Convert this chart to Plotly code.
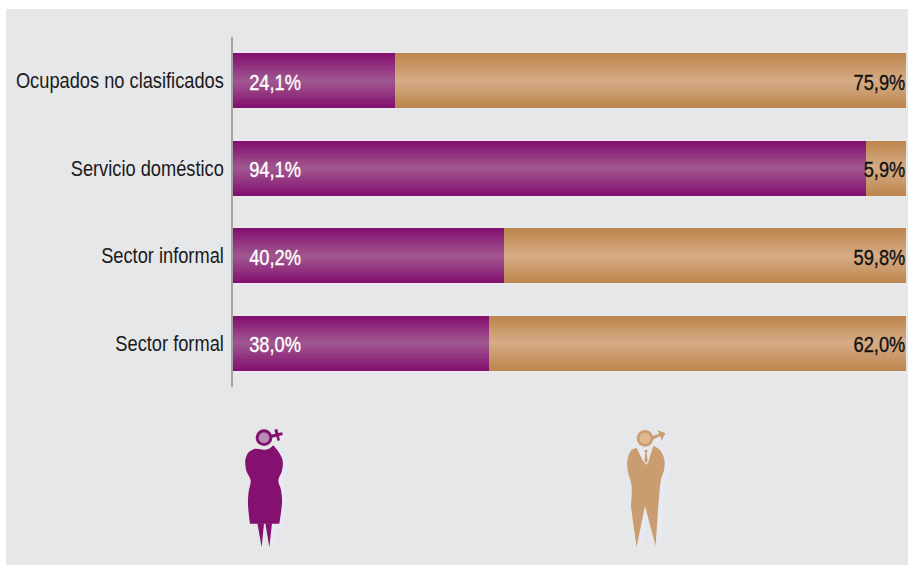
import plotly.graph_objects as go

categories = ["Sector formal", "Sector informal", "Servicio doméstico", "Ocupados no clasificados"]
mujeres = [38.0, 40.2, 94.1, 24.1]
hombres = [62.0, 59.8, 5.9, 75.9]
etiquetas_mujeres = ["38,0%", "40,2%", "94,1%", "24,1%"]
etiquetas_hombres = ["62,0%", "59,8%", "5,9%", "75,9%"]

W, H = 908, 565
PANEL = "#e6e7e9"
PURPLE = "#84106f"
TAN = "#c99d6f"
FONT = "Liberation Sans"
BAR_W = 0.63
N = 28
pos = list(range(len(categories)))


def mix(a, b, t):
    ca = [int(a[i:i + 2], 16) for i in (1, 3, 5)]
    cb = [int(b[i:i + 2], 16) for i in (1, 3, 5)]
    return "rgb(%d,%d,%d)" % tuple(round(x + (y - x) * t) for x, y in zip(ca, cb))


fig = go.Figure()
for k in range(N // 2 + 1):
    t = k / (N / 2)
    off = -BAR_W / 2 + k * BAR_W / N
    wid = BAR_W - 2 * k * BAR_W / N
    if wid <= 0:
        break
    fig.add_bar(y=pos, x=mujeres, orientation="h", width=wid, offset=off,
                marker=dict(color=mix("#84106f", "#a15a91", t), line_width=0), hoverinfo="skip", showlegend=False)
    fig.add_bar(y=pos, x=hombres, base=mujeres, orientation="h", width=wid, offset=off,
                marker=dict(color=mix("#bc864e", "#d7ad88", t), line_width=0), hoverinfo="skip", showlegend=False)

label_y = [p - 0.04 for p in pos]
fig.add_scatter(x=[2.4] * 4, y=label_y, mode="text", text=etiquetas_mujeres, textposition="middle right",
                textfont=dict(family=FONT, size=22, color="white"), cliponaxis=False,
                hoverinfo="skip", showlegend=False)
fig.add_scatter(x=[99.9] * 4, y=label_y, mode="text", text=etiquetas_hombres, textposition="middle left",
                textfont=dict(family=FONT, size=22, color="#111111"), cliponaxis=False,
                hoverinfo="skip", showlegend=False)


def X(zx, ox):
    return (ox + zx / 3) / W


def Y(zy):
    return 1 - (400 + zy / 3) / H


def poly(points, ox, dx=0, dy=0):
    s = ""
    for i, (a, b) in enumerate(points):
        s += ("M" if i == 0 else "L") + f"{X(a + dx, ox):.5f},{Y(b + dy):.5f}"
    return s + "Z"


def smooth_path(points, ox, dx=0, dy=0):
    """Closed outline; a point with a third item is a sharp corner, the rest are rounded."""
    n = len(points)
    def P(i):
        p = points[i % n]
        return (X(p[0] + dx, ox), Y(p[1] + dy))
    def tan(i):
        if len(points[i % n]) > 2:
            return (0.0, 0.0)
        a, b = P(i - 1), P(i + 1)
        return ((b[0] - a[0]) / 6, (b[1] - a[1]) / 6)
    s = f"M{P(0)[0]:.5f},{P(0)[1]:.5f}"
    for i in range(n):
        p0, p1 = P(i), P(i + 1)
        t0, t1 = tan(i), tan(i + 1)
        s += (f"C{p0[0] + t0[0]:.5f},{p0[1] + t0[1]:.5f} "
              f"{p1[0] - t1[0]:.5f},{p1[1] - t1[1]:.5f} {p1[0]:.5f},{p1[1]:.5f}")
    return s + "Z"


def circle(cx, cy, r, ox, color):
    return dict(type="circle", xref="paper", yref="paper", x0=X(cx - r, ox), x1=X(cx + r, ox),
                y0=Y(cy + r), y1=Y(cy - r), fillcolor=color, line_width=0, layer="above")


def pshape(points, ox, color, dx=0, dy=0):
    return dict(type="path", xref="paper", yref="paper", path=poly(points, ox, dx, dy),
                fillcolor=color, line_width=0, layer="above")


def sshape(points, ox, color, dx=0, dy=0):
    return dict(type="path", xref="paper", yref="paper", path=smooth_path(points, ox, dx, dy),
                fillcolor=color, line_width=0, layer="above")


fem_body = [(104, 146, 1), (86, 157), (76, 180), (79, 212), (92, 241), (86, 275), (84, 315), (90, 371, 1),
            (178, 371, 1), (186, 310), (183, 270), (175, 241), (186, 212), (188, 182), (176, 156), (160, 136, 1),
            (147, 146), (132, 149), (118, 147)]
fem_legs = [[(112, 370), (132, 370), (125, 442)], [(136, 370), (156, 370), (148, 442)]]
fem_stem = [(152, 104), (166, 101), (163, 89), (172, 87), (175, 99), (187, 97), (188, 105), (177, 108), (180, 121),
            (173, 123), (169, 110), (155, 113)]

male_body = [(110, 144, 1), (92, 153), (82, 182), (84, 215), (95, 258), (93, 320, 1), (110, 442, 1), (135, 318, 1),
             (167, 438, 1), (180, 260), (192, 210), (193, 178), (180, 150), (160, 138, 1), (145, 186, 1), (138, 195, 1),
             (130, 184, 1)]
male_tie = [(133, 150), (143, 150), (140, 160), (143, 182), (138, 190), (133, 182), (136, 160)]
male_arrow = [(152, 110), (178, 101), (172, 90), (196, 100), (185, 122), (181, 108), (156, 120)]

SHADOW = "#e9e9f4"
OXF, OXM = 220, 600
shapes = [
    dict(type="rect", xref="paper", yref="paper", x0=6 / W, x1=1, y0=0, y1=1 - 9 / H,
         fillcolor=PANEL, line_width=0, layer="below"),
    # shadows
    sshape(fem_body, OXF, SHADOW, 14, 5),
    pshape(fem_legs[1], OXF, SHADOW, 14, 0),
    pshape(fem_stem, OXF, SHADOW, 12, 5),
    sshape(male_body, OXM, SHADOW, 15, 3),
    pshape(male_arrow, OXM, SHADOW, 12, 8),
    # female
    sshape(fem_body, OXF, PURPLE),
    pshape(fem_legs[0], OXF, PURPLE),
    pshape(fem_legs[1], OXF, PURPLE),
    circle(132, 113, 29, OXF, PANEL),
    pshape(fem_stem, OXF, PURPLE),
    circle(132, 113, 25, OXF, PURPLE),
    circle(132, 113, 16, OXF, "#b98eb5"),
    # male
    sshape(male_body, OXM, TAN),
    circle(135, 115, 29, OXM, PANEL),
    pshape(male_tie, OXM, TAN),
    pshape(male_arrow, OXM, TAN),
    circle(135, 115, 25, OXM, TAN),
    circle(135, 115, 17, OXM, "#e0b992"),
]

fig.update_layout(
    width=W, height=H, autosize=False,
    margin=dict(l=0, r=0, t=0, b=0, pad=0, autoexpand=False),
    paper_bgcolor="white", plot_bgcolor="rgba(0,0,0,0)",
    barmode="overlay", bargap=0, showlegend=False,
    shapes=shapes,
    xaxis=dict(domain=[233 / W, 906 / W], range=[0, 100], visible=False, fixedrange=True, automargin=False),
    yaxis=dict(domain=[1 - 387 / H, 1 - 37 / H], tickmode="array", tickvals=pos, ticktext=categories,
               range=[-0.5, 3.5], anchor="x", showline=True, linecolor="#a3a3a3", linewidth=1.5, showgrid=False,
               zeroline=False, ticks="outside", ticklen=3, tickcolor="rgba(0,0,0,0)", fixedrange=True,
               automargin=False, tickfont=dict(family=FONT, size=22, color="#1a1a1a")),
)

# Arial-Narrow look: compress the real SVG text horizontally around its anchor.
POST = """
document.body.style.margin='0';
(function(){
  var S = 0.83;
  function narrow(){
    document.querySelectorAll('.ytick text, .textpoint text').forEach(function(t){
      if(t.getAttribute('data-n')) return;
      t.setAttribute('data-n','1');
      var ax = parseFloat(t.getAttribute('x')) || 0;
      var old = t.getAttribute('transform') || '';
      t.setAttribute('transform', old + ' translate(' + ax + ',0) scale(' + S + ',1) translate(' + (-ax) + ',0)');
      if(t.closest('.textpoint')){ t.style.stroke = t.style.fill; t.style.strokeWidth='0.35px'; }
    });
  }
  narrow();
  requestAnimationFrame(narrow);
  setTimeout(narrow,50);
})();
"""
fig.write_html("out.html", config=dict(displayModeBar=False), post_script=POST)
